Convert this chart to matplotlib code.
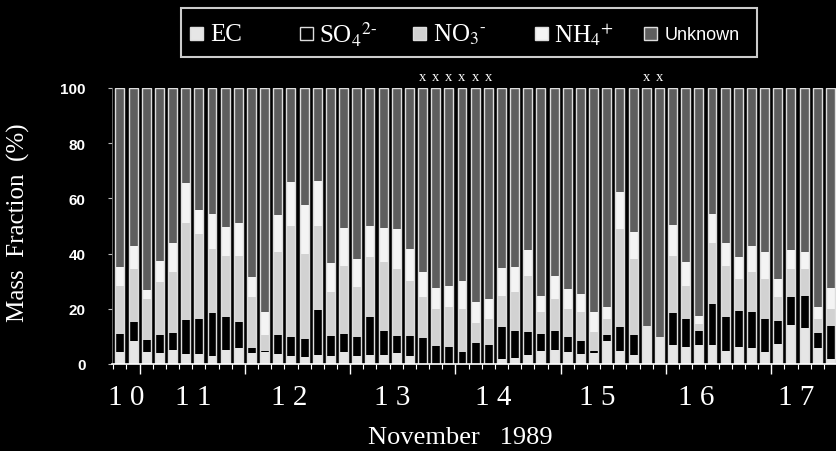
import numpy as np
import matplotlib
matplotlib.use('Agg')
import matplotlib.pyplot as plt
from matplotlib.patches import Rectangle

plt.rcParams['font.family'] = ['Liberation Serif', 'DejaVu Serif']
plt.rcParams['mathtext.fontset'] = 'stix'

# mass fractions (%) for each sample
ec = [4.5, 8.2, 4.5, 4.0, 5.1, 3.6, 3.6, 2.8, 5.1, 5.7, 4.0, 4.2, 3.6, 3.0, 2.4, 3.4,
      3.0, 4.2, 3.0, 3.3, 3.3, 4.0, 3.0, 0, 0, 0, 0, 0, 0, 1.8, 2.1, 3.3,
      4.6, 5.2, 4.5, 3.6, 4.0, 8.5, 4.8, 3.3, 13.9, 9.7, 7.0, 6.3, 7.0, 6.9, 4.8, 6.0,
      5.7, 4.5, 7.2, 14.3, 13.0, 5.8, 1.8]
so4 = [6.4, 6.9, 4.3, 6.6, 6.0, 12.5, 12.7, 15.6, 12.0, 9.4, 1.7, 0.6, 6.9, 6.9, 6.7, 16.2,
       7.0, 6.7, 6.9, 13.6, 8.5, 6.0, 7.3, 9.3, 6.6, 6.0, 4.5, 7.6, 7.0, 11.5, 9.7, 8.2,
       6.3, 6.6, 5.2, 4.6, 0.8, 2.0, 8.5, 7.3, 0, 0, 11.5, 10.0, 4.8, 14.8, 12.3, 13.1,
       13.0, 11.8, 8.3, 9.9, 11.5, 5.3, 12.1]
no3 = [17.5, 19.3, 14.7, 19.0, 22.1, 34.9, 30.7, 23.3, 21.9, 24.2, 18.5, 5.7, 30.0, 40.1, 30.9, 30.4,
       16.0, 24.7, 17.9, 21.7, 25.0, 24.4, 19.9, 14.9, 13.4, 14.5, 15.5, 7.4, 9.3, 11.5, 14.2, 20.5,
       7.8, 11.7, 10.3, 10.5, 6.7, 5.8, 35.7, 27.4, 0, 0, 20.8, 12.1, 2.7, 22.3, 18.5, 11.7,
       14.5, 14.5, 8.7, 10.2, 9.9, 5.2, 6.1]
nh4 = [6.9, 8.5, 3.3, 7.6, 10.5, 14.6, 8.9, 12.6, 10.8, 11.7, 7.2, 8.5, 13.5, 15.8, 17.6, 16.2,
       10.5, 13.6, 10.2, 11.5, 12.5, 14.5, 11.5, 9.0, 7.5, 7.9, 10.0, 7.6, 7.3, 10.0, 9.3, 9.4,
       6.1, 8.5, 7.2, 6.7, 7.5, 4.2, 13.4, 9.9, 0, 0, 11.1, 8.7, 2.8, 10.3, 8.2, 8.1,
       9.4, 9.7, 6.6, 7.0, 6.3, 4.5, 7.4]
# samples flagged with x above the bar
flagged = [23, 24, 25, 26, 27, 28, 40, 41]
# day labels and where they sit (in sample units)
day_labels = ['1 0', '1 1', '1 2', '1 3', '1 4', '1 5', '1 6', '1 7']
day_pos = [0.5, 5.6, 12.9, 20.7, 28.4, 36.3, 43.8, 51.4]

ec = np.array(ec)
so4 = np.array(so4)
no3 = np.array(no3)
nh4 = np.array(nh4)
unknown = 100 - (ec + so4 + no3 + nh4)
x = np.arange(len(ec))

fig = plt.figure(figsize=(8.37, 4.52), dpi=100, facecolor='black')
ax = fig.add_axes([112 / 837, 0.1925, 725 / 837, 0.6106])
ax.set_facecolor('black')

w = 0.68
colors = ['#e6e6e6', '#000000', '#d2d2d2', '#f4f4f4', '#5e5e5e']
bottom = np.zeros(len(x))
for vals, c in zip([ec, so4, no3, nh4, unknown], colors):
    ax.bar(x, vals, w, bottom=bottom, color=c, edgecolor='none')
    bottom = bottom + vals
# white outline around each bar
ax.bar(x, 100, w, fill=False, edgecolor='#dddddd', linewidth=1.0)

for i in flagged:
    ax.text(i, 101.8, 'x', color='white', fontsize=10.5, ha='center', va='bottom')

ax.set_xlim(-0.6, 54.1)
ax.set_ylim(0, 100)

ax.set_yticks([0, 20, 40, 60, 80, 100])
ax.set_yticklabels(['0', '20', '40', '60', '80', '100'], family='Liberation Sans',
                   fontweight='bold', fontsize=11, color='white')
ax.tick_params(axis='y', direction='out', length=3, width=0.8, color='#bbbbbb', pad=16)

ax.set_xticks(np.arange(1.5, 55, 8))
ax.set_xticks(np.arange(-0.5, 55, 1), minor=True)
ax.set_xticklabels([])
ax.tick_params(axis='x', which='major', direction='out', length=7, width=1, color='white')
ax.tick_params(axis='x', which='minor', direction='out', length=3.5, width=0.8, color='white')

for p, lab in zip(day_pos, day_labels):
    ax.text(p, -0.12, lab, transform=ax.get_xaxis_transform(), color='white',
            fontsize=21, ha='center', va='center')

for s in ['top', 'right']:
    ax.spines[s].set_visible(False)
ax.spines['bottom'].set_color('white')
ax.spines['bottom'].set_linewidth(1.2)
ax.spines['left'].set_color('#777777')
ax.spines['left'].set_linewidth(0.6)

fig.text(18 / 837, 0.508, 'Mass  Fraction  (%)', rotation=90, color='white',
         fontsize=18, ha='center', va='center')
fig.text(460 / 837, 0.031, 'November   1989', color='white', fontsize=19,
         ha='center', va='center')

# legend box drawn by hand
H = 452.0
fig.add_artist(Rectangle((181 / 837, 1 - 58 / H), 576 / 837, 49 / H, transform=fig.transFigure,
                         fill=False, edgecolor='#cccccc', linewidth=1.5))
entries = [(197, colors[0], 'EC'), (306, 'black', r'SO$_4$$^{2\text{-}}$'),
           (420, colors[2], r'NO$_3$$^{\text{-}}$'), (541, colors[3], r'NH$_4$$^{+}$'),
           (651, colors[4], 'Unknown')]
sq = 13
for xc, c, lab in entries:
    fig.add_artist(Rectangle(((xc - sq / 2) / 837, 1 - (34 + sq / 2) / H), sq / 837, sq / H,
                             transform=fig.transFigure, facecolor=c, edgecolor='#dddddd',
                             linewidth=1))
    if lab == 'Unknown':
        fig.text((xc + 14) / 837, 1 - 35 / H, lab, color='white', fontsize=13,
                 family='Liberation Sans', ha='left', va='center')
    else:
        fig.text((xc + 13) / 837, 1 - 35 / H, lab, color='white', fontsize=18,
                 ha='left', va='center')

fig.savefig('out.png', dpi=100, facecolor='black')
